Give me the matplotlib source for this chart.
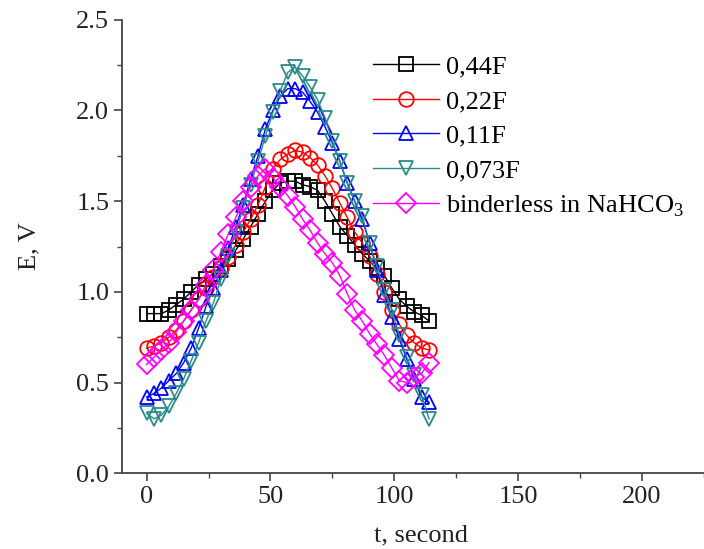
import matplotlib
matplotlib.use("Agg")
import matplotlib.pyplot as plt
from matplotlib.ticker import MultipleLocator

plt.rcParams['font.family'] = ['Liberation Serif', 'DejaVu Serif']
plt.rcParams['mathtext.fontset'] = 'custom'
plt.rcParams['mathtext.rm'] = 'Liberation Serif'

# temps (s), un point toutes les 3 s
t = [0, 3, 6, 9, 12, 15, 18, 21, 24, 27, 30, 33, 36, 39, 42, 45, 48, 51, 54, 57,
     60, 63, 66, 69, 72, 75, 78, 81, 84, 87, 90, 93, 96, 99, 102, 105, 108, 111, 114]

e_044 = [0.88, 0.88, 0.88, 0.90, 0.93, 0.96, 1.00, 1.04, 1.07, 1.10, 1.14, 1.18, 1.23, 1.29,
         1.36, 1.43, 1.50, 1.56, 1.60, 1.61, 1.61, 1.59, 1.58, 1.56, 1.50, 1.43, 1.36, 1.31,
         1.26, 1.21, 1.17, 1.13, 1.09, 1.02, 0.96, 0.92, 0.89, 0.87, 0.84]
e_022 = [0.69, 0.70, 0.72, 0.75, 0.79, 0.84, 0.90, 0.96, 1.02, 1.08, 1.13, 1.19, 1.26, 1.33,
         1.40, 1.48, 1.58, 1.68, 1.73, 1.76, 1.78, 1.77, 1.74, 1.70, 1.64, 1.57, 1.49, 1.41,
         1.33, 1.27, 1.20, 1.10, 1.00, 0.90, 0.82, 0.76, 0.72, 0.69, 0.68]
e_011 = [0.42, 0.44, 0.47, 0.51, 0.55, 0.61, 0.69, 0.80, 0.92, 1.02, 1.12, 1.24, 1.36, 1.48,
         1.62, 1.75, 1.90, 2.00, 2.08, 2.12, 2.12, 2.10, 2.05, 1.99, 1.91, 1.82, 1.72, 1.60,
         1.50, 1.40, 1.27, 1.12, 0.98, 0.86, 0.74, 0.63, 0.52, 0.42, 0.39]
e_0073 = [0.33, 0.30, 0.32, 0.37, 0.44, 0.52, 0.62, 0.72, 0.84, 0.94, 1.07, 1.20, 1.33, 1.46,
          1.59, 1.72, 1.86, 1.99, 2.11, 2.21, 2.24, 2.19, 2.13, 2.06, 1.96, 1.83, 1.72, 1.60,
          1.50, 1.42, 1.27, 1.14, 1.01, 0.90, 0.76, 0.64, 0.54, 0.43, 0.30]
e_binder = [0.60, 0.64, 0.68, 0.72, 0.78, 0.84, 0.90, 0.96, 1.04, 1.12, 1.22, 1.32, 1.41, 1.50,
            1.58, 1.64, 1.68, 1.63, 1.58, 1.53, 1.47, 1.40, 1.34, 1.27, 1.21, 1.16, 1.09, 0.99,
            0.90, 0.84, 0.77, 0.71, 0.65, 0.58, 0.51, 0.50, 0.53, 0.55, 0.61]

series = [
    (e_044, '0,44F', 'black', 's'),
    (e_022, '0,22F', 'red', 'o'),
    (e_011, '0,11F', 'blue', '^'),
    (e_0073, '0,073F', '#2a8a8a', 'v'),
    (e_binder, 'binderless in NaHCO$_3$', 'magenta', 'D'),
]

fig = plt.figure(figsize=(7.04, 5.49), dpi=100)
ax = fig.add_axes([0.173, 0.138, 0.827, 0.826])

for e, lab, col, mk in series:
    ms = 10 if mk == 'D' else 10.5
    ax.plot(t, e, color=col, lw=1, marker=mk, ms=ms, mfc='none', mec=col, mew=1.3, label=lab)

ax.set_xlim(-10, 225)
ax.set_ylim(0, 2.5)
ax.xaxis.set_major_locator(MultipleLocator(50))
ax.xaxis.set_minor_locator(MultipleLocator(25))
ax.yaxis.set_major_locator(MultipleLocator(0.5))
ax.yaxis.set_minor_locator(MultipleLocator(0.25))
ax.yaxis.set_major_formatter(plt.FormatStrFormatter('%.1f'))

for s in ['top', 'right']:
    ax.spines[s].set_visible(False)
for s in ['left', 'bottom']:
    ax.spines[s].set_color('#444444')
    ax.spines[s].set_linewidth(1.3)

ax.tick_params(which='major', direction='out', length=6, width=1.2, labelsize=19,
               colors='#444444', labelcolor='#222222', pad=3)
ax.tick_params(which='minor', direction='out', length=3.5, width=1.0, colors='#444444')

ax.set_xlabel('t, second', fontsize=19, color='#222222', va='center')
ax.xaxis.set_label_coords(0.514, -0.137)
ax.set_ylabel('E, V', fontsize=19, color='#222222', va='center')
ax.yaxis.set_label_coords(-0.158, 0.5)

ax.legend(loc='upper left', bbox_to_anchor=(0.431, 0.922), frameon=False, fontsize=19,
          handlelength=2.5, handletextpad=0.28, labelspacing=0.42, borderpad=0, borderaxespad=0)

fig.savefig('out.png', dpi=100)
